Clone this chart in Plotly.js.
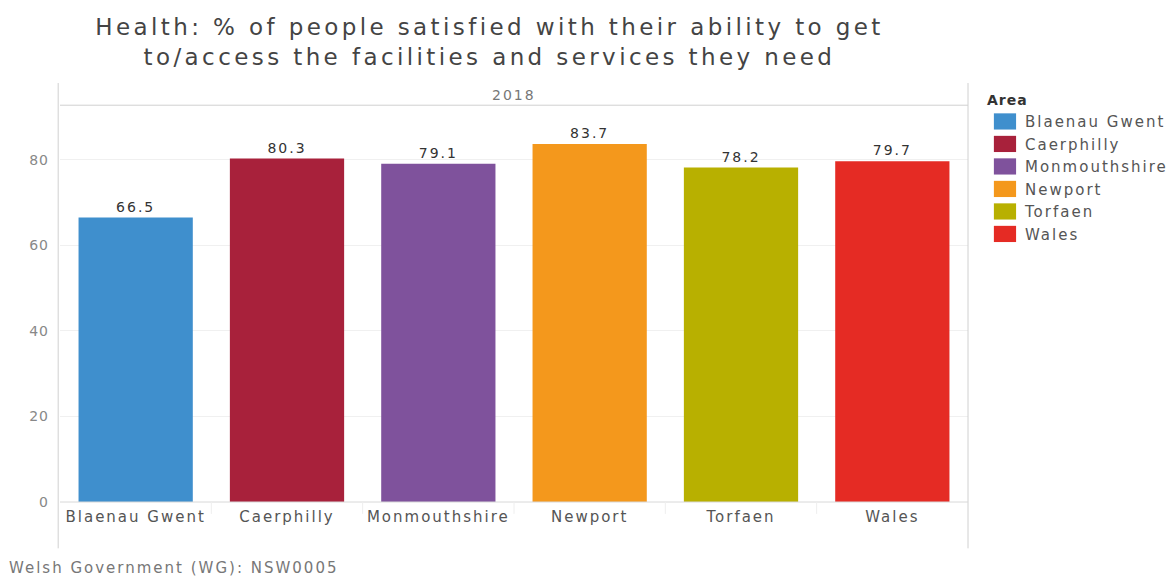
<!DOCTYPE html>
<html>
<head>
<meta charset="utf-8">
<script src="https://cdn.plot.ly/plotly-3.0.1.min.js"></script>
<style>
html,body{margin:0;padding:0;background:#fff;}
#chart{width:1171px;height:576px;}
.gtitle{letter-spacing:3.4px;}
.xtick text, .annotation-text, .legendtext{letter-spacing:2px;}
.bartext{letter-spacing:2px;}
.ytick text{letter-spacing:1px;}
.legendtitletext{letter-spacing:1px;}
#chart .legendpoints path{transform:translate(20px,0px) scale(1.85,1.35);}
</style>
</head>
<body>
<div id="chart"></div>
<script>
const areas = ["Blaenau Gwent", "Caerphilly", "Monmouthshire", "Newport", "Torfaen", "Wales"];
const values = [66.5, 80.3, 79.1, 83.7, 78.2, 79.7];
const colors = ["#3f8fcd", "#a8213b", "#7f529c", "#f4981c", "#b8b000", "#e52b24"];
const yTicks = [0, 20, 40, 60, 80];
const panelLabel = "2018";

const FONT = "DejaVu Sans, Verdana, sans-serif";
const traces = areas.map((a, i) => ({
  type: "bar",
  name: a,
  x: [a],
  y: [values[i]],
  width: 0.755,
  marker: {color: colors[i]},
  text: [values[i].toFixed(1)],
  textposition: "outside",
  cliponaxis: false,
  textfont: {family: FONT, size: 14, color: "#333"},
  hoverinfo: "x+y"
}));

const shapes = [
  {type: "line", xref: "paper", yref: "paper", x0: -0.002, x1: -0.002, y0: -0.117, y1: 1.058, line: {color: "#d0d0d0", width: 1}},
  {type: "line", xref: "paper", yref: "paper", x0: 1, x1: 1, y0: -0.117, y1: 1.058, line: {color: "#d0d0d0", width: 1}},
  {type: "line", xref: "paper", yref: "paper", x0: 0, x1: 1, y0: 1.002, y1: 1.002, line: {color: "#d0d0d0", width: 1}},
  {type: "line", xref: "paper", yref: "paper", x0: 0, x1: 1, y0: 0, y1: 0, line: {color: "#d8d8d8", width: 1}}
];
for (let i = 1; i < areas.length; i++) {
  shapes.push({type: "line", xref: "x", yref: "paper", x0: i - 0.5, x1: i - 0.5, y0: 0, y1: -0.03, line: {color: "#eeeeee", width: 1}});
}

const layout = {
  width: 1171, height: 576,
  margin: {l: 60, r: 203, t: 106, b: 74, autoexpand: false},
  paper_bgcolor: "#fff", plot_bgcolor: "#fff",
  font: {family: FONT, color: "#555"},
  title: {
    text: "Health: % of people satisfied with their ability to get<br>to/access the facilities and services they need",
    x: 0.418, xref: "container", xanchor: "center",
    y: 0.939, yref: "container", yanchor: "middle",
    font: {family: FONT, size: 23, color: "#444"}
  },
  barmode: "overlay",
  showlegend: true,
  legend: {
    x: 1.0187, xanchor: "left", y: 1.048, yanchor: "top",
    title: {text: "<b>Area</b>", font: {family: FONT, size: 14, color: "#333"}},
    font: {family: FONT, size: 15, color: "#555"},
    tracegroupgap: 0, bgcolor: "rgba(0,0,0,0)"
  },
  xaxis: {
    type: "category",
    categoryorder: "array", categoryarray: areas,
    showgrid: false, zeroline: false, showline: false,
    ticks: "", ticklabelstandoff: 4,
    tickfont: {family: FONT, size: 15, color: "#555"},
    range: [-0.5, 5.5], fixedrange: true
  },
  yaxis: {
    range: [0, 92.6],
    tickvals: yTicks, ticktext: yTicks.map(String),
    showgrid: true, gridcolor: "#f0f0f0", gridwidth: 1,
    zeroline: false, showline: false, ticks: "",
    ticklabelstandoff: 10,
    tickfont: {family: FONT, size: 14, color: "#888"},
    fixedrange: true
  },
  shapes: shapes,
  annotations: [
    {text: panelLabel, xref: "paper", yref: "paper", x: 0.5, y: 1.028, showarrow: false, xanchor: "center", yanchor: "middle", font: {family: FONT, size: 14, color: "#777"}},
    {text: "Welsh Government (WG): NSW0005", xref: "paper", yref: "paper", x: -0.0585, y: -0.167, showarrow: false, xanchor: "left", yanchor: "middle", font: {family: FONT, size: 15, color: "#777"}}
  ]
};

Plotly.newPlot("chart", traces, layout, {displayModeBar: false, staticPlot: true});
</script>
</body>
</html>
